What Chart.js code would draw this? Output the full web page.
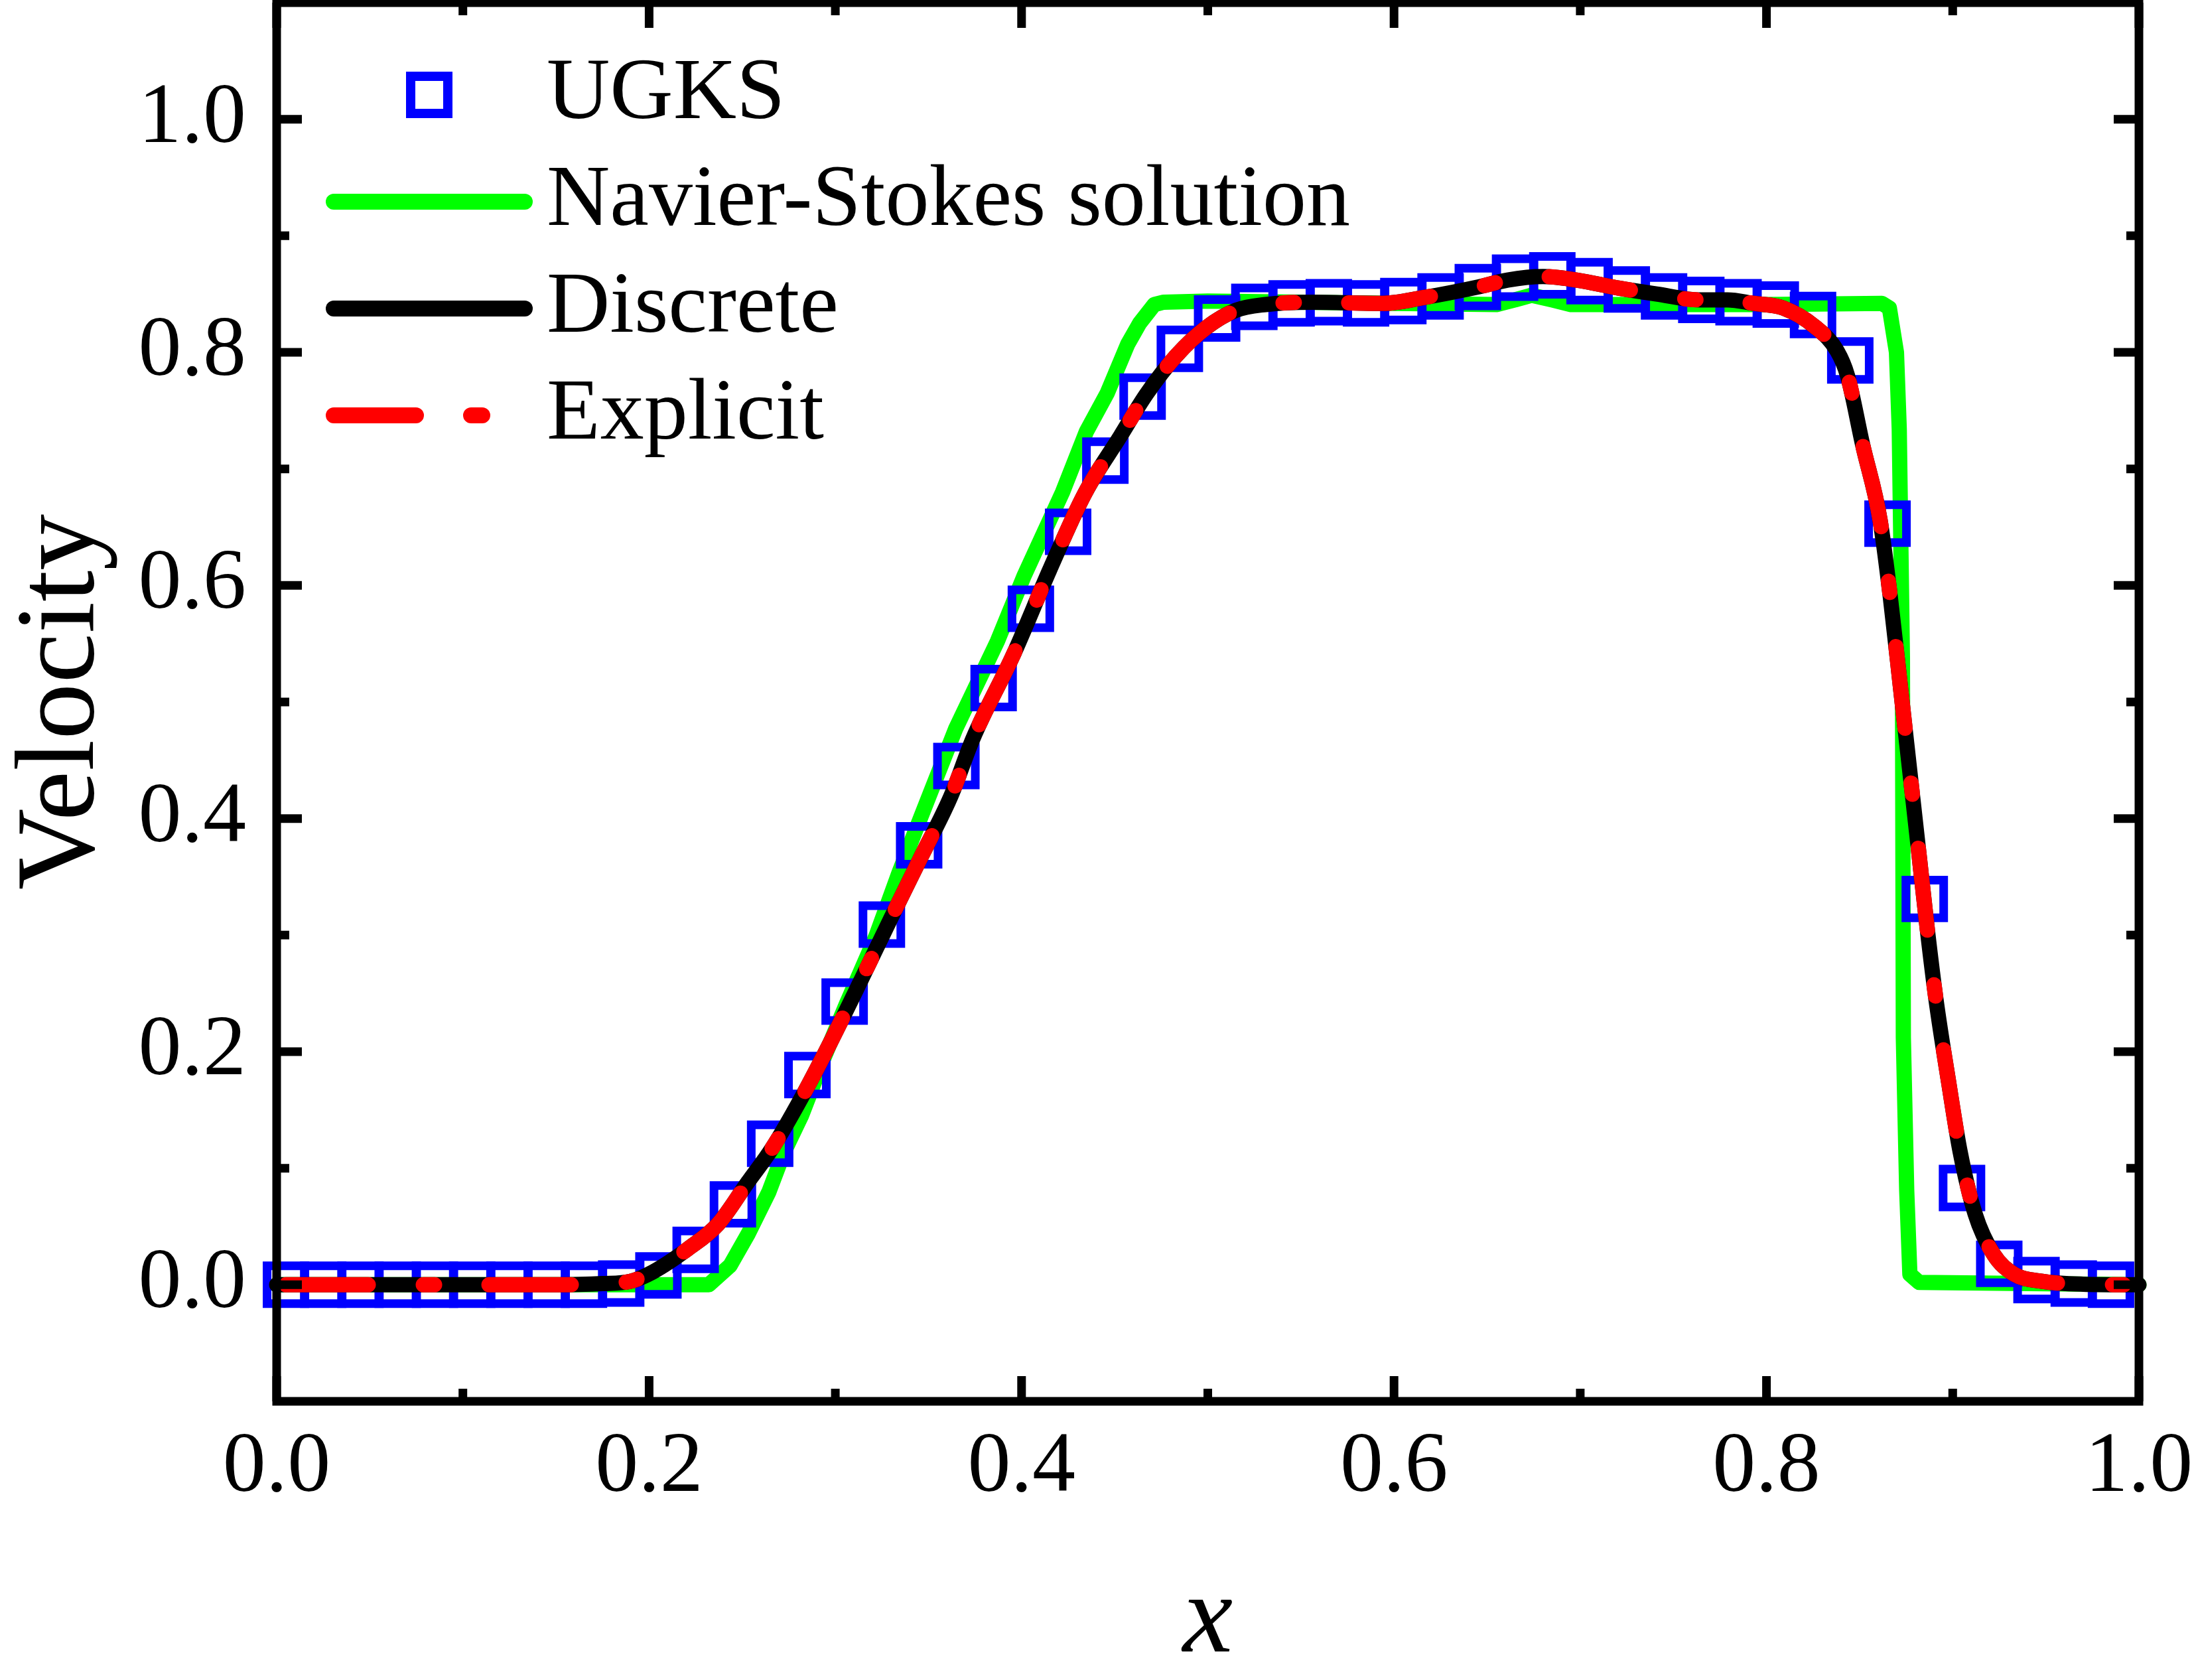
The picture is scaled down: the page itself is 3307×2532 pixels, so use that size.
<!DOCTYPE html>
<html>
<head>
<meta charset="utf-8">
<script src="https://cdn.jsdelivr.net/npm/chart.js@4.4.1/dist/chart.umd.min.js"></script>
<style>
html,body{margin:0;padding:0;background:#ffffff;}
#wrap{width:3307px;height:2532px;position:relative;}
</style>
</head>
<body>
<div id="wrap"><canvas id="c"></canvas></div>
<script>
// ---------- data ----------
const seriesLabels = ['UGKS', 'Navier-Stokes solution', 'Discrete', 'Explicit'];

const ugksX = [0.005,0.025,0.045,0.065,0.085,0.105,0.125,0.145,0.165,0.185,
               0.205,0.225,0.245,0.265,0.285,0.305,0.325,0.345,0.365,0.385,
               0.405,0.425,0.445,0.465,0.485,0.505,0.525,0.545,0.565,0.585,
               0.605,0.625,0.645,0.665,0.685,0.705,0.725,0.745,0.765,0.785,
               0.805,0.825,0.845,0.865,0.885,0.905,0.925,0.945,0.965,0.985];
const ugksY = [0,0,0,0,0,0,0,0,0,0.001,
               0.008,0.030,0.069,0.121,0.180,0.243,0.309,0.377,0.445,0.512,
               0.580,0.646,0.707,0.762,0.803,0.829,0.839,0.842,0.843,0.842,
               0.844,0.848,0.856,0.864,0.866,0.861,0.854,0.848,0.845,0.843,
               0.841,0.832,0.793,0.653,0.331,0.083,0.018,0.004,0.001,0.0];

const nsX = [0,0.232,0.2435,0.2533,0.2644,0.2722,0.2818,0.2929,0.3057,0.3218,
             0.3343,0.3488,0.3646,0.387,0.4013,0.422,0.4348,0.446,0.457,0.4634,
             0.4713,0.4763,0.50,0.55,0.60,0.655,0.665,0.674,0.685,0.695,
             0.80,0.862,0.866,0.8698,0.8713,0.873,0.8735,0.8753,0.877,0.882,1.0];
const nsY = [0,0,0.0165,0.044,0.080,0.113,0.145,0.191,0.240,0.299,
             0.354,0.413,0.477,0.552,0.608,0.680,0.732,0.765,0.807,0.825,
             0.841,0.843,0.844,0.843,0.842,0.841,0.845,0.849,0.845,0.841,
             0.841,0.842,0.838,0.800,0.734,0.538,0.212,0.081,0.009,0.002,0];

const discreteX = [0,0.15,0.175,0.19,0.202,0.221,0.237,0.253,0.266,0.282,
                   0.298,0.314,0.330,0.346,0.362,0.374,0.396,0.415,0.434,0.453,
                   0.467,0.483,0.499,0.515,0.531,0.556,0.594,0.616,0.645,0.661,
                   0.680,0.698,0.721,0.741,0.764,0.779,0.793,0.809,0.826,0.838,
                   0.8435,0.8516,0.861,0.8665,0.872,0.877,0.882,0.8865,0.891,0.898,
                   0.904,0.912,0.922,0.933,0.948,0.970,1.0];
const discreteY = [0,0,0.001,0.003,0.011,0.031,0.052,0.088,0.117,0.161,
                   0.210,0.262,0.315,0.367,0.419,0.469,0.542,0.613,0.679,0.728,
                   0.764,0.797,0.821,0.836,0.841,0.843,0.842,0.847,0.856,0.862,
                   0.865,0.862,0.855,0.850,0.845,0.845,0.842,0.838,0.822,0.801,
                   0.780,0.721,0.656,0.590,0.512,0.440,0.368,0.303,0.245,0.172,
                   0.114,0.061,0.026,0.009,0.003,0.0005,0];

const explicitX = [0.005,0.15,0.175,0.19,0.202,0.221,0.237,0.253,0.266,0.282,
                   0.298,0.314,0.330,0.346,0.362,0.374,0.396,0.415,0.434,0.453,
                   0.467,0.483,0.499,0.515,0.531,0.556,0.594,0.616,0.645,0.661,
                   0.680,0.698,0.721,0.741,0.764,0.779,0.793,0.809,0.826,0.838,
                   0.8435,0.8516,0.861,0.8665,0.872,0.877,0.882,0.8865,0.891,0.898,
                   0.904,0.912,0.922,0.933,0.948,0.970,0.995];
const explicitY = [0,0,0.001,0.003,0.011,0.031,0.052,0.088,0.117,0.161,
                   0.210,0.262,0.315,0.367,0.419,0.469,0.542,0.613,0.679,0.728,
                   0.764,0.797,0.821,0.836,0.841,0.843,0.842,0.847,0.856,0.862,
                   0.865,0.862,0.855,0.850,0.845,0.845,0.842,0.838,0.822,0.801,
                   0.780,0.721,0.656,0.590,0.512,0.440,0.368,0.303,0.245,0.172,
                   0.114,0.061,0.026,0.009,0.003,0.0005,0];

const xMajorTicks = [0, 0.2, 0.4, 0.6, 0.8, 1.0];
const xMinorTicks = [0.1, 0.3, 0.5, 0.7, 0.9];
const xTickLabels = ['0.0', '0.2', '0.4', '0.6', '0.8', '1.0'];
const yMajorTicks = [0, 0.2, 0.4, 0.6, 0.8, 1.0];
const yMinorTicks = [0.1, 0.3, 0.5, 0.7, 0.9];
const yTickLabels = ['0.0', '0.2', '0.4', '0.6', '0.8', '1.0'];
const xTitle = 'x';
const yTitle = 'Velocity';

// ---------- styles ----------
const BLUE = '#0000FF', GREEN = '#00FF00', BLACK = '#000000', RED = '#FF0000';
const redDash = [124, 83, 17, 82];
const FONT = 'Liberation Serif';

function pts(xs, ys) { return xs.map((x, i) => ({x: x, y: ys[i]})); }

// legend samples (small canvases used as legend point styles)
function makeSample(kind) {
  const c = document.createElement('canvas');
  c.width = 402; c.height = 80;
  const g = c.getContext('2d');
  if (kind === 'square') {
    g.strokeStyle = BLUE; g.lineWidth = 14;
    g.strokeRect(246 - 28, 40 - 28, 56, 56);
  } else {
    g.lineWidth = 24; g.lineCap = 'round';
    g.strokeStyle = kind === 'green' ? GREEN : (kind === 'black' ? BLACK : RED);
    if (kind === 'red') g.setLineDash(redDash);
    g.beginPath(); g.moveTo(102, 40); g.lineTo(390, 40); g.stroke();
  }
  return c;
}
const legendSamples = [makeSample('square'), makeSample('green'), makeSample('black'), makeSample('red')];

// frame + inward ticks drawn from the library's scales
const frameTicks = {
  id: 'frameTicks',
  afterDraw(chart) {
    const {ctx, chartArea: a, scales: {x, y}} = chart;
    ctx.save();
    ctx.strokeStyle = '#000';
    ctx.lineWidth = 13;
    ctx.lineJoin = 'miter';
    ctx.strokeRect(a.left, a.top, a.right - a.left, a.bottom - a.top);
    ctx.lineCap = 'butt';
    const MAJ = 38, MIN = 19;
    ctx.beginPath();
    const xt = (arr, len) => arr.forEach(v => {
      const p = x.getPixelForValue(v);
      ctx.moveTo(p, a.bottom); ctx.lineTo(p, a.bottom - len);
      ctx.moveTo(p, a.top); ctx.lineTo(p, a.top + len);
    });
    const yt = (arr, len) => arr.forEach(v => {
      const p = y.getPixelForValue(v);
      ctx.moveTo(a.left, p); ctx.lineTo(a.left + len, p);
      ctx.moveTo(a.right, p); ctx.lineTo(a.right - len, p);
    });
    xt(xMajorTicks, MAJ); xt(xMinorTicks, MIN);
    yt(yMajorTicks, MAJ); yt(yMinorTicks, MIN);
    ctx.stroke();
    ctx.restore();
  }
};

Chart.defaults.font.family = FONT;
Chart.defaults.color = '#000';

function noOverflow(scale) {
  scale.paddingTop = 0; scale.paddingBottom = 0;
  scale.paddingLeft = 0; scale.paddingRight = 0;
}

new Chart(document.getElementById('c'), {
  type: 'scatter',
  data: {
    datasets: [
      {
        label: seriesLabels[0],
        data: pts(ugksX, ugksY),
        showLine: false,
        pointStyle: 'rect',
        pointRadius: 40.3,
        pointBorderWidth: 13,
        pointBorderColor: BLUE,
        pointBackgroundColor: 'rgba(0,0,0,0)',
        borderColor: BLUE,
        clip: false,
        order: 2
      },
      {
        label: seriesLabels[1],
        data: pts(nsX, nsY),
        showLine: true,
        borderColor: GREEN,
        borderWidth: 23,
        borderCapStyle: 'round',
        borderJoinStyle: 'round',
        tension: 0,
        pointRadius: 0,
        clip: false,
        order: 3
      },
      {
        label: seriesLabels[2],
        data: pts(discreteX, discreteY),
        showLine: true,
        borderColor: BLACK,
        borderWidth: 23,
        borderCapStyle: 'round',
        borderJoinStyle: 'round',
        cubicInterpolationMode: 'monotone',
        pointRadius: 0,
        clip: false,
        order: 1
      },
      {
        label: seriesLabels[3],
        data: pts(explicitX, explicitY),
        showLine: true,
        borderColor: RED,
        borderWidth: 23,
        borderDash: redDash,
        borderCapStyle: 'round',
        borderJoinStyle: 'round',
        cubicInterpolationMode: 'monotone',
        pointRadius: 0,
        clip: false,
        order: 0
      }
    ]
  },
  options: {
    responsive: true,
    maintainAspectRatio: false,
    devicePixelRatio: 1,
    animation: false,
    layout: {autoPadding: false, padding: {left: 0, top: 4, right: 83, bottom: 0}},
    plugins: {
      tooltip: {enabled: false},
      legend: {
        position: 'chartArea',
        align: 'start',
        title: {display: true, text: ' ', font: {size: 40, lineHeight: 1}, padding: 4},
        labels: {
          usePointStyle: true,
          pointStyleWidth: 312,
          padding: 29,
          color: '#000',
          font: {family: FONT, size: 132},
          generateLabels(chart) {
            return chart.data.datasets.map((ds, i) => ({
              text: ds.label,
              datasetIndex: i,
              pointStyle: legendSamples[i],
              fillStyle: 'rgba(0,0,0,0)',
              strokeStyle: 'rgba(0,0,0,0)',
              lineWidth: 0,
              hidden: false,
              fontColor: '#000'
            }));
          }
        }
      }
    },
    scales: {
      x: {
        type: 'linear',
        position: 'bottom',
        min: 0, max: 1,
        grid: {display: false, drawTicks: false},
        border: {display: false},
        afterBuildTicks(scale) { scale.ticks = xMajorTicks.map(v => ({value: v})); },
        afterFit(scale) { scale.height = 420; noOverflow(scale); },
        ticks: {
          padding: 23,
          font: {family: FONT, size: 130},
          color: '#000',
          maxRotation: 0,
          autoSkip: false,
          callback(v) { const i = xMajorTicks.indexOf(v); return i >= 0 ? xTickLabels[i] : ''; }
        },
        title: {
          display: true, text: xTitle, color: '#000',
          font: {family: FONT, size: 170, style: 'italic', lineHeight: 1},
          padding: {top: 0, bottom: 3}
        }
      },
      y: {
        type: 'linear',
        position: 'left',
        min: -0.1, max: 1.1,
        grid: {display: false, drawTicks: false},
        border: {display: false},
        afterBuildTicks(scale) { scale.ticks = yMajorTicks.map(v => ({value: v})); },
        afterFit(scale) { scale.width = 417; noOverflow(scale); },
        ticks: {
          padding: 46,
          font: {family: FONT, size: 130},
          color: '#000',
          autoSkip: false,
          callback(v) { const i = yMajorTicks.indexOf(v); return i >= 0 ? yTickLabels[i] : ''; }
        },
        title: {
          display: true, text: yTitle, color: '#000',
          font: {family: FONT, size: 170, lineHeight: 1},
          padding: {top: 10, bottom: 0}
        }
      }
    }
  },
  plugins: [frameTicks]
});
</script>
</body>
</html>
